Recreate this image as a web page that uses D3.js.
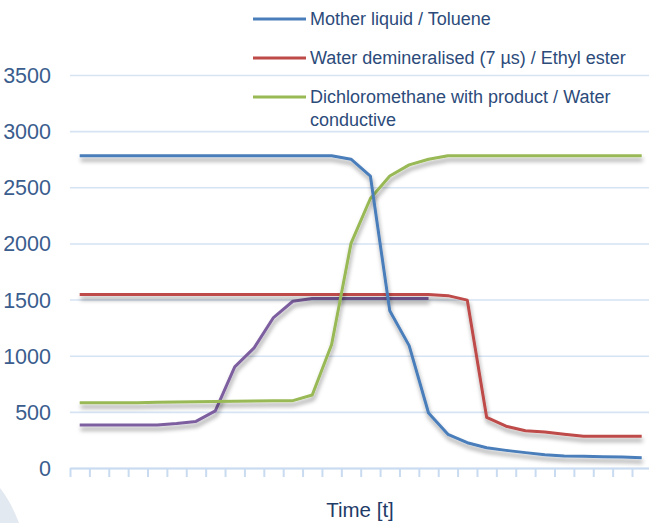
<!DOCTYPE html>
<html>
<head>
<meta charset="utf-8">
<script src="https://cdn.jsdelivr.net/npm/d3@7"></script>
<style>
  html, body { margin: 0; padding: 0; background: #fff; }
  svg { display: block; font-family: 'Liberation Sans', Arial, sans-serif; }
</style>
</head>
<body>
<svg id="chart" width="649" height="523"></svg>
<script>
// time steps (categories)
const timeSteps = [1, 2, 3, 4, 5, 6, 7, 8, 9, 10, 11, 12, 13, 14, 15,
  16, 17, 18, 19, 20, 21, 22, 23, 24, 25, 26, 27, 28, 29, 30];

const yTicks = [0, 500, 1000, 1500, 2000, 2500, 3000, 3500];

const motherLiquid = [2780, 2780, 2780, 2780, 2780, 2780, 2780, 2780, 2780, 2780,
  2780, 2780, 2780, 2780, 2750, 2600, 1400, 1090, 490, 300,
  225, 180, 157, 137, 119, 107, 104, 101, 98, 92];

const waterDemin = [1545, 1545, 1545, 1545, 1545, 1545, 1545, 1545, 1545, 1545,
  1545, 1545, 1545, 1545, 1545, 1545, 1545, 1545, 1545, 1535,
  1495, 450, 372, 332, 320, 300, 283, 282, 282, 282];

const dichloro = [580, 580, 580, 582, 585, 588, 590, 592, 595, 597,
  598, 600, 650, 1100, 2000, 2400, 2600, 2700, 2750, 2780,
  2780, 2780, 2780, 2780, 2780, 2780, 2780, 2780, 2780, 2780];

const fourth = [384, 384, 384, 384, 384, 397, 415, 509, 900, 1070,
  1340, 1485, 1510, 1510, 1510, 1510, 1510, 1510, 1510, null,
  null, null, null, null, null, null, null, null, null, null];

const legendLabels = [
  ['Mother liquid / Toluene'],
  ['Water demineralised (7 µs) / Ethyl ester'],
  ['Dichloromethane with product / Water', 'conductive']
];

const series = [
  { values: fourth, color: '#7d5fa0' },
  { values: waterDemin, color: '#be4b48' },
  { values: dichloro, color: '#98b954' },
  { values: motherLiquid, color: '#4a7ebb' }
];

const svg = d3.select('#chart');
const left = 70;
const step = 19.38;

const defs = svg.append('defs');
const f = defs.append('filter').attr('id', 'shadow')
  .attr('x', '-5%').attr('y', '-20%').attr('width', '110%').attr('height', '160%');
f.append('feDropShadow')
  .attr('dx', 1).attr('dy', 4).attr('stdDeviation', 2)
  .attr('flood-color', '#000').attr('flood-opacity', 0.38);

// faint backdrop in the corner
svg.append('path')
  .attr('d', 'M0,488 C8,498 14,510 19,523 L0,523 Z')
  .attr('fill', '#e3e9f1');

const x = d3.scaleBand()
  .domain(timeSteps)
  .range([left, left + step * timeSteps.length]);

const xEdges = d3.scaleLinear()
  .domain([0, timeSteps.length])
  .range([left, left + step * timeSteps.length]);

const y = d3.scaleLinear()
  .domain([0, 3500])
  .range([468, 75]);

// gridlines + y labels
const yAxis = d3.axisLeft(y)
  .tickValues(yTicks)
  .tickFormat(d3.format('d'))
  .tickSizeInner(-(660 - left))
  .tickSizeOuter(0)
  .tickPadding(19);

const yg = svg.append('g')
  .attr('transform', `translate(${left},0)`)
  .call(yAxis);

yg.select('.domain').remove();
yg.selectAll('.tick line').attr('stroke', '#d6e3f3').attr('stroke-width', 1.6);
yg.selectAll('.tick text')
  .attr('fill', '#3a5d8e')
  .style('font-size', '21.5px')
  .attr('dy', '0.35em');

// x axis with category tick marks
const xAxis = d3.axisBottom(xEdges)
  .tickValues(d3.range(timeSteps.length + 1))
  .tickFormat('')
  .tickSizeInner(9)
  .tickSizeOuter(0);

const xg = svg.append('g')
  .attr('transform', `translate(0,${y(0)})`)
  .call(xAxis);
xg.select('.domain').attr('stroke', '#c9dbf0').attr('stroke-width', 2);
xg.selectAll('.tick line').attr('stroke', '#c9dbf0').attr('stroke-width', 2);

svg.append('text')
  .attr('x', 360)
  .attr('y', 517)
  .attr('text-anchor', 'middle')
  .attr('fill', '#1f3b68')
  .style('font-size', '20.5px')
  .text('Time [t]');

// lines
const line = d3.line()
  .defined((d) => d != null)
  .x((d, i) => x(timeSteps[i]) + x.bandwidth() / 2)
  .y((d) => y(d));

svg.append('g')
  .selectAll('path')
  .data(series)
  .enter()
  .append('path')
  .attr('fill', 'none')
  .attr('stroke', (d) => d.color)
  .attr('stroke-width', 3)
  .attr('stroke-linejoin', 'round')
  .attr('filter', 'url(#shadow)')
  .attr('d', (d) => line(d.values));

// legend
const legendColors = ['#4a7ebb', '#be4b48', '#98b954'];
const legendY = [19, 58, 97];

const lg = svg.append('g')
  .selectAll('g')
  .data(legendLabels)
  .enter()
  .append('g')
  .attr('transform', (d, i) => `translate(253,${legendY[i]})`);

lg.append('line')
  .attr('x1', 0).attr('x2', 53)
  .attr('stroke', (d, i) => legendColors[i])
  .attr('stroke-width', 3);

lg.append('text')
  .attr('x', 57)
  .attr('fill', '#2c4b7a')
  .style('font-size', '18px')
  .selectAll('tspan')
  .data((d) => d)
  .enter()
  .append('tspan')
  .attr('x', 57)
  .attr('dy', (d, i) => (i === 0 ? '0.36em' : '1.27em'))
  .text((d) => d);
</script>
</body>
</html>
